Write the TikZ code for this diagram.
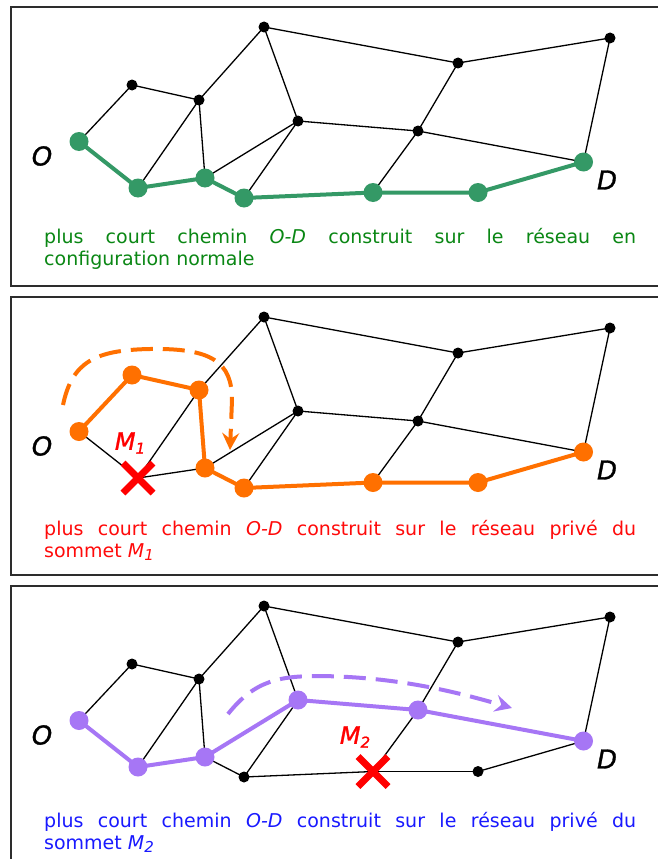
\documentclass[tikz,border=0pt]{standalone}
\usepackage{fontspec}
\setmainfont{DejaVu Sans}
\newfontfamily\labfont[ItalicFeatures={FakeBold=1.2}]{DejaVu Sans}
\usetikzlibrary{arrows.meta}
\definecolor{pgreen}{RGB}{52,153,102}
\definecolor{porange}{RGB}{255,112,0}
\definecolor{ppurple}{RGB}{166,118,245}
\definecolor{xred}{RGB}{255,0,0}
\definecolor{cgreen}{RGB}{10,135,20}
\definecolor{cred}{RGB}{255,10,10}
\definecolor{cblue}{RGB}{25,25,255}
\definecolor{framegray}{RGB}{45,45,45}
\newcommand\defpts[2]{%
  \coordinate (#1O)  at (79,141.5+#2);
  \coordinate (#1A)  at (132,85+#2);
  \coordinate (#1B)  at (199,100+#2);
  \coordinate (#1C)  at (264,27+#2);
  \coordinate (#1E)  at (298,121+#2);
  \coordinate (#1F)  at (458,63+#2);
  \coordinate (#1G)  at (610,38+#2);
  \coordinate (#1H)  at (418,131+#2);
  \coordinate (#1D)  at (583.5,162+#2);
  \coordinate (#1P1) at (138,188+#2);
  \coordinate (#1P2) at (205,178+#2);
  \coordinate (#1P3) at (244,198+#2);
  \coordinate (#1P4) at (373,192.5+#2);
  \coordinate (#1P5) at (478,192.5+#2);
}
\newcommand\subs[1]{\raisebox{-0.3ex}{\fontsize{15}{15}\selectfont\itshape #1}}
\tikzset{
  edge/.style={line width=1.3pt, black},
  dotb/.style={circle, fill=black, inner sep=0pt, minimum size=11pt},
  dotc/.style={circle, fill=#1, inner sep=0pt, minimum size=19pt},
  route/.style={line width=4pt, draw=#1, line join=round},
  frame/.style={draw=framegray, line width=1.5pt},
  cross/.style={line width=7pt, draw=xred},
  od/.style={font=\fontsize{26}{26}\selectfont\labfont\itshape, inner sep=0pt},
  mlab/.style={font=\fontsize{24}{24}\selectfont\labfont\itshape, text=xred, inner sep=0pt},
  captxt/.style={anchor=base west, inner sep=0pt, font=\fontsize{19}{22}\selectfont, text=#1},
  detour/.style={line width=4pt, draw=#1, dash pattern=on 22pt off 10pt,
    -{Stealth[length=17pt,width=17pt,inset=6pt]}},
}
\begin{document}
\begin{tikzpicture}[x=1pt,y=-1pt]
\useasboundingbox (0,0) rectangle (657,859);
\fill[white] (0,0) rectangle (657,859);

% frames
\draw[frame] (11,7) rectangle (659,286);
\draw[frame] (11,297) rectangle (659,575);
\draw[frame] (11,586) rectangle (659,880);

%================ panel 1
\defpts{a}{0}
\foreach \u/\v in {O/A,A/B,B/C,B/P1,B/P2,C/E,C/F,F/G,F/H,E/P2,E/P3,E/H,H/P4,H/D,G/D}
  \draw[edge] (a\u) -- (a\v);
\draw[route=pgreen] (aO) -- (aP1) -- (aP2) -- (aP3) -- (aP4) -- (aP5) -- (aD);
\foreach \n in {A,B,C,E,F,G,H} \node[dotb] (a\n-dot) at (a\n) {};
\foreach \n in {O,P1,P2,P3,P4,P5,D} \node[dotc=pgreen] (a\n-dot) at (a\n) {};
\node[od] (aO-lab) at (42,156) {O};
\node[od] (aD-lab) at (607,180) {D};
\node[captxt=cgreen] (cap1a) at (44,243) {\hbox to 592pt{plus\hfill court\hfill chemin\hfill \textit{O-D}\hfill construit\hfill sur\hfill le\hfill réseau\hfill en}};
\node[captxt=cgreen] (cap1b) at (44,265) {configuration normale};

%================ panel 2
\defpts{b}{290}
\foreach \u/\v in {O/P1,P1/B,P1/P2,B/C,C/E,C/F,F/G,F/H,E/P2,E/P3,E/H,H/P4,H/D,G/D}
  \draw[edge] (b\u) -- (b\v);
\draw[route=porange] (bO) -- (bA) -- (bB) -- (bP2) -- (bP3) -- (bP4) -- (bP5) -- (bD);
\foreach \n in {C,E,F,G,H} \node[dotb] (b\n-dot) at (b\n) {};
\foreach \n in {O,A,B,P2,P3,P4,P5,D} \node[dotc=porange] (b\n-dot) at (b\n) {};
\draw[cross] ([shift={(-15,-15)}]bP1) -- ([shift={(15,15)}]bP1);
\draw[cross] ([shift={(-15,15)}]bP1) -- ([shift={(15,-15)}]bP1);
\node[mlab] (bM-lab) at (130,443) {M\subs{1}};
\coordinate (bArrS) at (63,405);
\coordinate (bArrE) at (230,450);
\draw[detour=porange] (bArrS) .. controls (72,362) and (95,350) .. (150,349)
  .. controls (212,348) and (232,362) .. (232,400) -- (bArrE);
\node[od] (bO-lab) at (42,446) {O};
\node[od] (bD-lab) at (607,470) {D};
\node[captxt=cred] (cap2a) at (44,535) {\hbox to 592pt{plus\hfill court\hfill chemin\hfill \textit{O-D}\hfill construit\hfill sur\hfill le\hfill réseau\hfill privé\hfill du}};
\node[captxt=cred] (cap2b) at (44,557) {sommet \textit{M}\subs{1}};

%================ panel 3
\defpts{c}{579}
\foreach \u/\v in {O/A,A/B,B/C,B/P1,B/P2,C/E,C/F,F/G,F/H,E/P3,P2/P3,P3/P4,P4/P5,P5/D,G/D,H/P4}
  \draw[edge] (c\u) -- (c\v);
\draw[route=ppurple] (cO) -- (cP1) -- (cP2) -- (cE) -- (cH) -- (cD);
\foreach \n in {A,B,C,F,G,P3,P5} \node[dotb] (c\n-dot) at (c\n) {};
\foreach \n in {O,P1,P2,E,H,D} \node[dotc=ppurple] (c\n-dot) at (c\n) {};
\draw[cross] ([shift={(-15,-15)}]cP4) -- ([shift={(15,15)}]cP4);
\draw[cross] ([shift={(-15,15)}]cP4) -- ([shift={(15,-15)}]cP4);
\node[mlab] (cM-lab) at (355,737) {M\subs{2}};
\coordinate (cArrS) at (228,714);
\coordinate (cArrE) at (512,708);
\draw[detour=ppurple] (cArrS) .. controls (255,680) and (280,676) .. (320,676)
  .. controls (400,677) and (460,693) .. (cArrE);
\node[od] (cO-lab) at (42,735) {O};
\node[od] (cD-lab) at (607,759) {D};
\node[captxt=cblue] (cap3a) at (44,827) {\hbox to 592pt{plus\hfill court\hfill chemin\hfill \textit{O-D}\hfill construit\hfill sur\hfill le\hfill réseau\hfill privé\hfill du}};
\node[captxt=cblue] (cap3b) at (44,849) {sommet \textit{M}\subs{2}};
\end{tikzpicture}
\end{document}
